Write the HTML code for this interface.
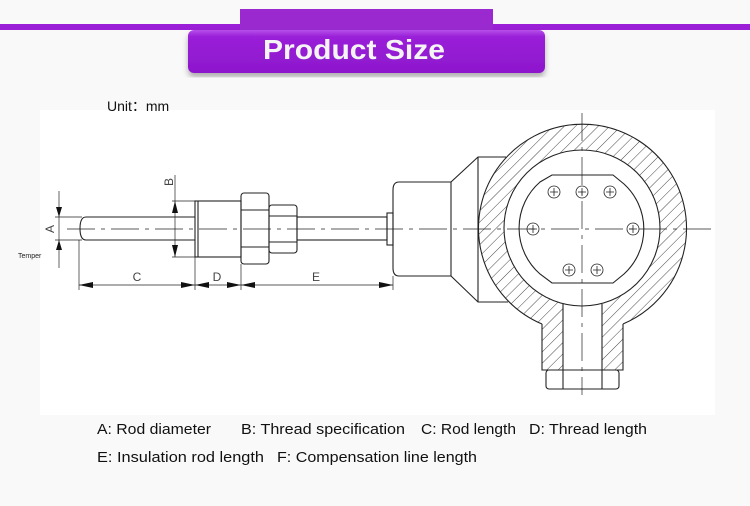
<!DOCTYPE html>
<html><head><meta charset="utf-8"><style>
html,body{margin:0;padding:0;background:#fff;}
svg{display:block;font-family:"Liberation Sans",sans-serif;}
</style></head><body>
<svg width="750" height="506" viewBox="0 0 750 506" xmlns="http://www.w3.org/2000/svg">
<defs>
<pattern id="h" width="8" height="8" patternUnits="userSpaceOnUse" patternTransform="rotate(45)">
<line x1="0" y1="0" x2="0" y2="8" stroke="#333" stroke-width="0.9"/>
</pattern>
<mask id="m">
<circle cx="582" cy="228" r="104" fill="#fff"/>
<rect x="542" y="280" width="81" height="90" fill="#fff"/>
<circle cx="582" cy="228" r="78" fill="#000"/>
<rect x="563" y="290" width="39" height="80" fill="#000"/>
</mask>
<linearGradient id="bt" x1="0" y1="0" x2="0" y2="1">
<stop offset="0" stop-color="#b650ea"/><stop offset="0.15" stop-color="#9a20d8"/><stop offset="1" stop-color="#8d17cc"/>
</linearGradient>
<filter id="sh"><feDropShadow dx="0" dy="4" stdDeviation="3" flood-color="#000" flood-opacity="0.3"/></filter>
</defs>
<rect width="750" height="506" fill="#f9f9f9"/>
<rect x="40" y="110" width="675" height="305" fill="#fff"/>
<!-- header -->
<rect x="0" y="24" width="750" height="6" fill="#9b1fd6"/>
<rect x="240" y="9" width="253" height="21" fill="#9a2ad0"/>
<rect x="188" y="30" width="357" height="43" rx="6" fill="url(#bt)" filter="url(#sh)"/>
<text x="354" y="59" text-anchor="middle" font-size="28" font-weight="bold" fill="#f4f4f4" textLength="182" lengthAdjust="spacingAndGlyphs">Product Size</text>
<text x="107" y="111" font-size="14" fill="#111">Unit：mm</text>

<g fill="none" stroke="#222" stroke-width="1.1">
<!-- rod -->
<path d="M195 217 H86 Q80 217 80 228.5 Q80 240 86 240 H195"/>
<rect x="195" y="201" width="46" height="56"/>
<line x1="198" y1="201" x2="198" y2="257"/>
<rect x="241" y="193" width="28" height="71" rx="3"/>
<line x1="241" y1="210" x2="269" y2="210"/><line x1="241" y1="247" x2="269" y2="247"/>
<rect x="269" y="205" width="28" height="48" rx="3"/>
<line x1="269" y1="216" x2="297" y2="216"/><line x1="269" y1="242" x2="297" y2="242"/>
<rect x="297" y="217" width="90" height="23"/>
<rect x="387" y="213" width="6" height="32"/>
<!-- housing -->
<path d="M451 182 H399 Q393 182 393 190 V268 Q393 276 399 276 H451 Z"/>
<path d="M451 182 L478 157 H506 M451 276 L478 302 H508 M478 157 V302"/>
<rect x="546" y="370" width="73" height="19" rx="3"/>
<line x1="563" y1="370" x2="563" y2="389"/><line x1="602" y1="370" x2="602" y2="389"/>
</g>
<rect x="0" y="0" width="750" height="506" fill="url(#h)" mask="url(#m)"/>
<g fill="none" stroke="#222" stroke-width="1.1">
<path d="M542 324 A104 104 0 1 1 623 324"/>
<path d="M542 324 V370 H623 V324"/>
<circle cx="582" cy="228" r="78"/>
<line x1="563" y1="304" x2="563" y2="370"/><line x1="602" y1="304" x2="602" y2="370"/>
<path d="M552 175 H613 L624 184 A61 61 0 0 1 624 274 L613 283 H552 L540 274 A61 61 0 0 1 540 182 Z"/>
<g stroke-width="0.8">
<circle cx="554" cy="192" r="6"/><circle cx="582" cy="192" r="6"/><circle cx="610" cy="192" r="6"/>
<circle cx="533" cy="229" r="6"/><circle cx="633" cy="229" r="6"/>
<circle cx="569" cy="270" r="6"/><circle cx="597" cy="270" r="6"/>
<path d="M550 192h8M554 188v8M578 192h8M582 188v8M606 192h8M610 188v8M529 229h8M533 225v8M629 229h8M633 225v8M565 270h8M569 266v8M593 270h8M597 266v8"/>
</g>
<!-- centerlines -->
<line x1="67" y1="229" x2="712" y2="229" stroke-width="0.7" stroke-dasharray="28 6 4 6"/>
<line x1="582" y1="113" x2="582" y2="395" stroke-width="0.7" stroke-dasharray="28 6 4 6"/>
<!-- dimensions -->
<g stroke-width="0.7">
<line x1="59" y1="191" x2="59" y2="268"/>
<line x1="55" y1="217" x2="82" y2="217"/><line x1="55" y1="240" x2="82" y2="240"/>
<line x1="175" y1="175" x2="175" y2="257"/>
<line x1="172" y1="201" x2="195" y2="201"/><line x1="172" y1="257" x2="195" y2="257"/>
<line x1="79" y1="240" x2="79" y2="290"/><line x1="195" y1="257" x2="195" y2="290"/>
<line x1="241" y1="264" x2="241" y2="290"/><line x1="393" y1="276" x2="393" y2="290"/>
<line x1="79" y1="285" x2="393" y2="285"/>
</g>
</g>
<g fill="#111">
<path d="M59 217 l-3 -10 h6z M59 240 l-3 10 h6z M175 201 l-3 12 h6z M175 257 l-3 -12 h6z"/>
<path d="M79 285 l14 -3 v6z M195 285 l-14 -3 v6z M195 285 l14 -3 v6z M241 285 l-14 -3 v6z M241 285 l14 -3 v6z M393 285 l-14 -3 v6z"/>
</g>
<g font-size="12" fill="#444">
<text x="137" y="281" text-anchor="middle">C</text>
<text x="217" y="281" text-anchor="middle">D</text>
<text x="316" y="281" text-anchor="middle">E</text>
<text transform="translate(54 229) rotate(-90)" text-anchor="middle">A</text>
<text transform="translate(173 182) rotate(-90)" text-anchor="middle">B</text>
</g>
<text x="18" y="258" font-size="7" fill="#222">Temper</text>
<g font-size="15" fill="#111">
<text x="97" y="434" textLength="114" lengthAdjust="spacingAndGlyphs">A: Rod diameter</text>
<text x="241" y="434" textLength="164" lengthAdjust="spacingAndGlyphs">B: Thread specification</text>
<text x="421" y="434" textLength="95" lengthAdjust="spacingAndGlyphs">C: Rod length</text>
<text x="529" y="434" textLength="118" lengthAdjust="spacingAndGlyphs">D: Thread length</text>
<text x="97" y="462" textLength="167" lengthAdjust="spacingAndGlyphs">E: Insulation rod length</text>
<text x="277" y="462" textLength="200" lengthAdjust="spacingAndGlyphs">F: Compensation line length</text>
</g>
</svg>
</body></html>
